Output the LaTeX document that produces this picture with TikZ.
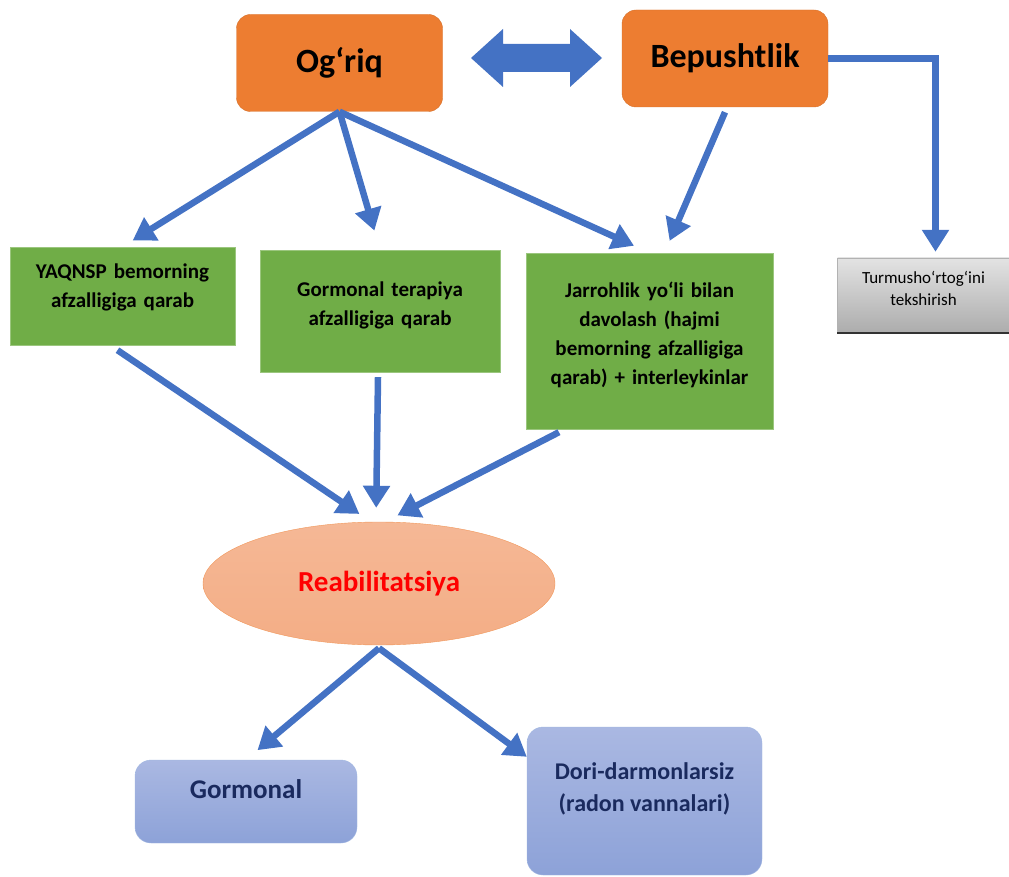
\documentclass[tikz,border=0pt]{standalone}
\usepackage{fontspec}
\setmainfont{Carlito}
\usetikzlibrary{arrows.meta,shapes.geometric}
\definecolor{orng}{HTML}{ED7D31}
\definecolor{grn}{HTML}{70AD47}
\definecolor{blu}{HTML}{4472C4}
\definecolor{navy}{HTML}{1A2A5E}
\definecolor{salmon}{HTML}{F4B08A}
\definecolor{lightblu}{HTML}{AAB8E2}
\definecolor{midblu}{HTML}{8DA2D8}
\begin{document}
\begin{tikzpicture}[x=1pt,y=-1pt,
    topbox/.style={fill=orng, draw=orng!90!black, rounded corners=14pt, minimum width=206pt, minimum height=97pt, font=\fontsize{34}{36}\selectfont\bfseries},
    greenbox/.style={fill=grn, draw=grn!70!white, align=center, font=\fontsize{21}{29}\selectfont\bfseries},
    bluebox/.style={top color=lightblu, bottom color=midblu, draw=blu!50!white, rounded corners=16pt, text=navy, align=center},
    arr/.style={draw=blu, line width=6.5pt, -{Triangle[length=22pt,width=26pt]}}]

    \useasboundingbox (0,0) rectangle (1009,877);

    \node[topbox] (ogriq) at (339.5,63) {Og‘riq};
    \node[topbox] (bep) at (725,58.5) {Bepushtlik};
    \fill[blu] (471,58) -- (503,29) -- (503,44) -- (570,44) -- (570,29) -- (602,58)
        -- (570,87) -- (570,72) -- (503,72) -- (503,87) -- cycle;

    \node[greenbox, minimum width=225pt, minimum height=98pt, text width=215pt] (g1) at (122.5,296) {YAQNSP bemorning\\ afzalligiga qarab\\[-8pt]\phantom{x}};
    \node[greenbox, minimum width=240pt, minimum height=122pt, text width=230pt] (g2) at (380,311) {Gormonal terapiya\\ afzalligiga qarab\\[-14pt]\phantom{x}};
    \node[greenbox, minimum width=245pt, minimum height=176pt, text width=240pt] (g3) at (649.5,341) {Jarrohlik yo‘li bilan\\ davolash (hajmi\\ bemorning afzalligiga\\ qarab) + interleykinlar\\[-14pt]\phantom{x}};
    \node[top color=gray!22, bottom color=gray!65, draw=gray!60, align=center, minimum width=171pt, minimum height=75pt,
        font=\fontsize{17}{22}\selectfont, text width=165pt] (turm) at (923.5,295.5) {Turmusho‘rtog‘ini\\ tekshirish\\[-8pt]\phantom{x}};
    \draw[gray!40!black, line width=2pt] (turm.south west) -- (turm.south east);

    \node[ellipse, top color=salmon!90!white, bottom color=salmon!95!orng, draw=orng!80!white, minimum width=352pt, minimum height=123pt,
        text=red, font=\fontsize{29}{32}\selectfont\bfseries] (reab) at (379,583.5) {Reabilitatsiya\\[6pt]};

    \node[bluebox, minimum width=222pt, minimum height=83pt, font=\fontsize{27}{30}\selectfont\bfseries] (gorm) at (246,801.5) {Gormonal\\[-6pt]\phantom{x}};
    \node[bluebox, minimum width=235pt, minimum height=148pt, font=\fontsize{24}{32}\selectfont\bfseries] (dori) at (644.5,801) {Dori-darmonlarsiz\\ (radon vannalari)\\[-4pt]\phantom{x}};

    \draw[arr, shorten >=12pt] (ogriq.south) -- (g1.north);
    \draw[arr, shorten >=20pt] (ogriq.south) -- (g2.north);
    \draw[arr, shorten >=17pt] (ogriq.south) -- (g3.north);
    \draw[arr, shorten >=13pt] ([yshift=-5pt]bep.south) -- ([xshift=15pt]g3.north);
    \draw[arr] (bep.east) -| ([xshift=12pt,yshift=6pt]turm.north);

    \draw[arr, shorten >=14pt] ([xshift=-5pt,yshift=-5pt]g1.south) -- ([xshift=-8pt]reab.north);
    \draw[arr, shorten >=14pt] ([xshift=-2pt,yshift=-5pt]g2.south) -- ([xshift=-3pt]reab.north);
    \draw[arr, shorten >=14pt] ([xshift=33pt,yshift=-3pt]g3.south west) -- ([xshift=6pt]reab.north);

    \draw[arr, shorten >=15pt] ([yshift=-3pt]reab.south) -- (gorm.north);
    \draw[arr] ([yshift=-3pt]reab.south) -- ([yshift=-30pt]dori.north west);
\end{tikzpicture}
\end{document}
